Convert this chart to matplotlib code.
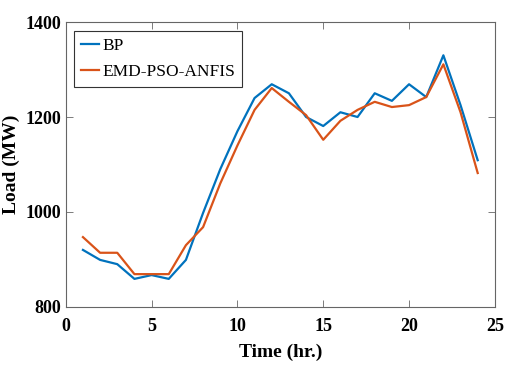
import matplotlib.pyplot as plt

# hourly load
hours = list(range(1, 25))
bp = [920, 899, 890, 859, 867, 859, 899, 998, 1090, 1170, 1240, 1269,
      1250, 1200, 1181, 1210, 1200, 1250, 1234, 1269, 1242, 1330, 1225, 1109]
emd_pso_anfis = [947, 914, 914, 869, 869, 869, 930, 968, 1060, 1140, 1215, 1261,
                 1232, 1204, 1152, 1192, 1215, 1232, 1221, 1225, 1242, 1311, 1210, 1082]

plt.rcParams['font.family'] = ['Liberation Serif', 'DejaVu Serif']

fig = plt.figure(figsize=(5.06, 3.87), dpi=100)
ax = fig.add_axes([0.130, 0.207, 0.848, 0.736])

ax.plot(hours, bp, color='#0072BD', lw=1.6, label='BP')
ax.plot(hours, emd_pso_anfis, color='#D95319', lw=1.6, label='EMD-PSO-ANFIS')

ax.set_xlim(0, 25)
ax.set_ylim(800, 1400)
ax.set_xticks([0, 5, 10, 15, 20, 25])
ax.set_yticks([800, 1000, 1200, 1400])

for s in ax.spines.values():
    s.set_color('#666666')
    s.set_linewidth(0.8)
ax.tick_params(direction='in', top=True, right=True, length=5, width=0.6,
               color='#666666', labelsize=13, pad=3)
ax.tick_params(axis='x', pad=8)
for lab in ax.get_xticklabels() + ax.get_yticklabels():
    lab.set_fontweight('bold')

ax.set_xlabel('Time (hr.)', fontsize=14, fontweight='bold', labelpad=6)
ax.set_ylabel('Load (MW)', fontsize=14, fontweight='bold', labelpad=4)

leg = ax.legend(loc='upper left', fontsize=12.5, handlelength=1.0, handletextpad=0.2,
                borderpad=0.4, labelspacing=0.6, fancybox=False, framealpha=1,
                borderaxespad=0.5)
leg.get_frame().set_edgecolor('#333333')
leg.get_frame().set_linewidth(0.8)

fig.savefig('out.png', dpi=100)
